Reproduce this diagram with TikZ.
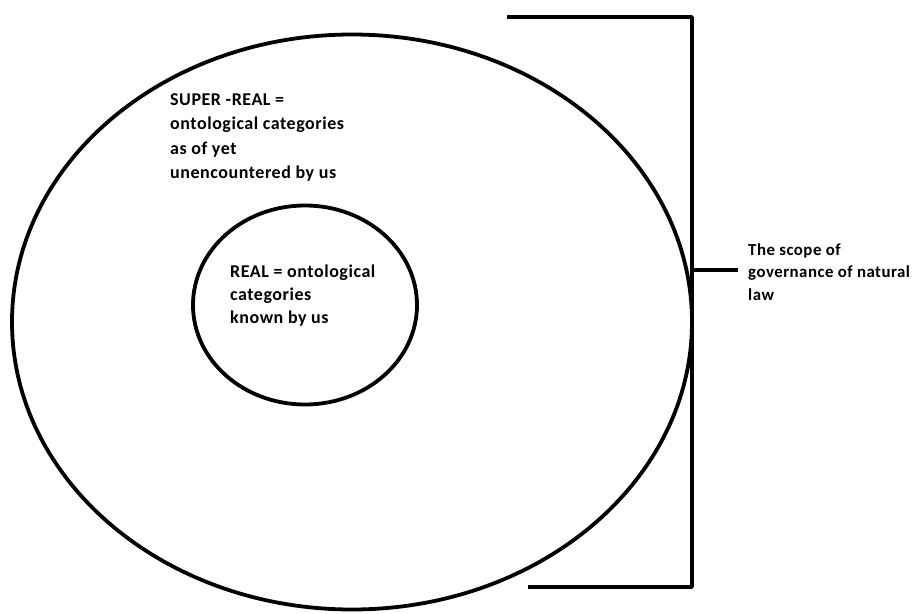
\documentclass[tikz,border=0pt]{standalone}
\usepackage{fontspec}
\setmainfont{Carlito}
\newfontfamily\notefont[LetterSpace=3]{Carlito}
\usetikzlibrary{shapes.geometric}

\begin{document}
\begin{tikzpicture}[x=1pt, y=-1pt]
        \tikzstyle{every node}=[inner sep=0pt]
        \tikzstyle{ring}=[draw, ellipse, line width=3.8pt]
        \tikzstyle{note}=[align=left, anchor=north west]

        \useasboundingbox (0,0) rectangle (915,613);

        % the two circles
        \node (superreal) [ring, minimum width=680pt, minimum height=575pt] at (352,322) {};
        \node (real)      [ring, minimum width=224pt, minimum height=199pt] at (305,305) {};

        \node (supertext) [note, font=\notefont\bfseries\fontsize{18}{24.3}\selectfont] at (170,93.5)
            {SUPER -REAL =\\ontological categories\\as of yet\\unencountered by us};
        \node (realtext)  [note, font=\notefont\bfseries\fontsize{18}{23.2}\selectfont] at (230,264.5)
            {REAL = ontological\\categories\\known by us};
        \node (scope)     [note, font=\notefont\bfseries\fontsize{16.8}{22.5}\selectfont] at (748,243.5)
            {The scope of\\governance of natural\\law};

        % bracket
        \coordinate (top)    at (507,17);
        \coordinate (bottom) at (528,587);
        \coordinate (spine)  at (692,270);
        \coordinate (tick)   at (738,270);
        \draw[line width=3.8pt, line join=round] (top) -| (spine |- bottom) -- (bottom);
        \draw[line width=3.8pt] (spine) -- (tick);
\end{tikzpicture}
\end{document}
